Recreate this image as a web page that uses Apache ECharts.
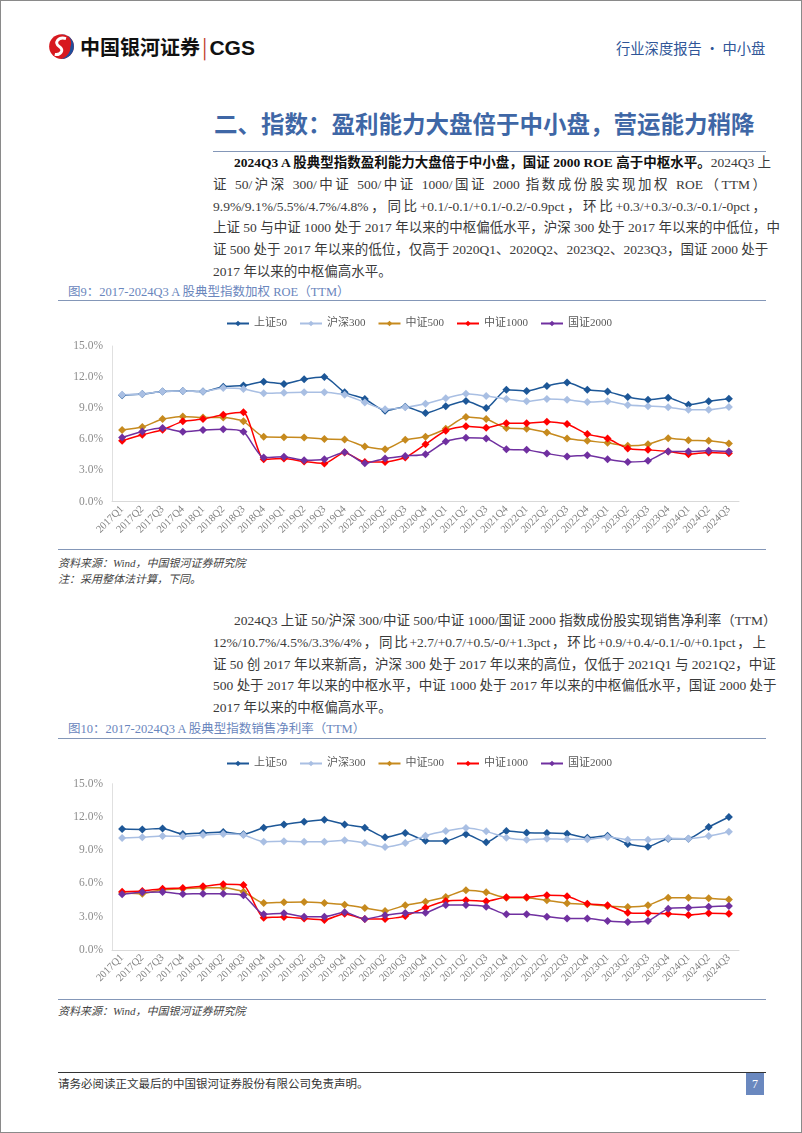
<!DOCTYPE html>
<html><head><meta charset="utf-8">
<script src="https://cdn.jsdelivr.net/npm/echarts@6/dist/echarts.min.js"></script>
<style>
html,body{margin:0;padding:0;background:#fff;}
#page{position:relative;width:800px;height:1131px;border:1px solid #8a8a8a;overflow:hidden;font-family:"Liberation Serif","Noto Sans CJK SC",serif;color:#333;}
.abs{position:absolute;white-space:nowrap;}
.hr{position:absolute;height:0;}
.para{position:absolute;left:212px;width:553px;font-size:13.5px;color:#3a3a3a;}
.para div{height:21.8px;line-height:21.8px;white-space:nowrap;text-align:justify;text-align-last:justify;}
.para div.last{text-align-last:left;}
.para b{color:#111;font-weight:bold;}
.cap{font-size:12.5px;color:#6a86bd;left:67px;}
.src{font-size:11px;font-style:italic;color:#444;left:57px;}
</style></head>
<body><div id="page">
<svg class="abs" style="left:47px;top:32px" width="27" height="27" viewBox="0 0 24 24">
<circle cx="12" cy="12" r="11" fill="#d7191f"/>
<path d="M12 1 A11 11 0 0 1 12 23 A11 11 0 0 0 20 12 A8 8 0 0 0 12 1Z" fill="#1e4f9c"/>
<path d="M16 5 C9 3 5 9 10 12 C15 15 11 20 6 19" stroke="#fff" stroke-width="2.6" fill="none"/>
</svg>
<div class="abs" style="left:79px;top:33px;font-size:20px;font-weight:bold;color:#111;font-family:'Noto Sans CJK SC';line-height:26px;">中国银河证券<span style="color:#c0392b;font-weight:normal;margin:0 2px">|</span><span style="font-family:'Liberation Sans';font-size:21px">CGS</span></div>
<div class="abs" style="left:615px;top:36px;font-size:14.3px;color:#2f5597;font-family:'Noto Sans CJK SC';line-height:22px;">行业深度报告 · 中小盘</div>
<div class="abs" style="left:213px;top:106px;font-size:23.5px;font-weight:bold;color:#3f67a6;font-family:'Noto Sans CJK SC';line-height:32px;">二、指数：盈利能力大盘倍于中小盘，营运能力稍降</div>
<div class="hr" style="left:212px;width:553px;top:150px;border-top:1.5px solid #8497b8;"></div>

<div class="para" style="top:151px">
<div><span style="padding-left:21px"></span><b>2024Q3 A 股典型指数盈利能力大盘倍于中小盘，国证 2000 ROE 高于中枢水平。</b>2024Q3 上</div>
<div>证 50/沪深 300/中证 500/中证 1000/国证 2000 指数成份股实现加权 ROE（TTM）</div>
<div>9.9%/9.1%/5.5%/4.7%/4.8%，同比+0.1/-0.1/+0.1/-0.2/-0.9pct，环比+0.3/+0.3/-0.3/-0.1/-0pct，</div>
<div>上证 50 与中证 1000 处于 2017 年以来的中枢偏低水平，沪深 300 处于 2017 年以来的中低位，中</div>
<div>证 500 处于 2017 年以来的低位，仅高于 2020Q1、2020Q2、2023Q2、2023Q3，国证 2000 处于</div>
<div class="last">2017 年以来的中枢偏高水平。</div>
</div>

<div class="abs cap" style="top:283px;line-height:16px">图9：2017-2024Q3 A 股典型指数加权 ROE（TTM）</div>
<div class="hr" style="left:57px;width:708px;top:299px;border-top:1.5px solid #8497b8;"></div>
<div id="c1" style="position:absolute;left:0;top:300px;width:802px;height:246px"></div>
<div class="hr" style="left:57px;width:708px;top:548px;border-top:1px solid #8497b8;"></div>
<div class="abs src" style="top:554px;line-height:16px">资料来源：Wind，中国银河证券研究院</div>
<div class="abs src" style="top:570px;line-height:16px">注：采用整体法计算，下同。</div>

<div class="para" style="top:609px">
<div><span style="padding-left:21px"></span>2024Q3 上证 50/沪深 300/中证 500/中证 1000/国证 2000 指数成份股实现销售净利率（TTM）</div>
<div>12%/10.7%/4.5%/3.3%/4%，同比+2.7/+0.7/+0.5/-0/+1.3pct，环比+0.9/+0.4/-0.1/-0/+0.1pct，上</div>
<div>证 50 创 2017 年以来新高，沪深 300 处于 2017 年以来的高位，仅低于 2021Q1 与 2021Q2，中证</div>
<div>500 处于 2017 年以来的中枢水平，中证 1000 处于 2017 年以来的中枢偏低水平，国证 2000 处于</div>
<div class="last">2017 年以来的中枢偏高水平。</div>
</div>

<div class="abs cap" style="top:720px;line-height:16px">图10：2017-2024Q3 A 股典型指数销售净利率（TTM）</div>
<div class="hr" style="left:57px;width:708px;top:737px;border-top:1.5px solid #8497b8;"></div>
<div id="c2" style="position:absolute;left:0;top:740px;width:802px;height:256px"></div>
<div class="hr" style="left:57px;width:708px;top:998px;border-top:1px solid #8497b8;"></div>
<div class="abs src" style="top:1002px;line-height:16px">资料来源：Wind，中国银河证券研究院</div>

<div class="hr" style="left:57px;width:708px;top:1071px;border-top:1.5px solid #333;"></div>
<div class="abs" style="left:57px;top:1075px;font-size:11.5px;color:#333;line-height:16px">请务必阅读正文最后的中国银河证券股份有限公司免责声明。</div>
<div class="abs" style="left:745px;top:1072px;width:18px;height:22px;background:#6a88bf;color:#fff;font-size:12px;line-height:22px;text-align:center">7</div>
</div>
<script>
var categories = ['2017Q1','2017Q2','2017Q3','2017Q4','2018Q1','2018Q2','2018Q3','2018Q4','2019Q1','2019Q2','2019Q3','2019Q4','2020Q1','2020Q2','2020Q3','2020Q4','2021Q1','2021Q2','2021Q3','2021Q4','2022Q1','2022Q2','2022Q3','2022Q4','2023Q1','2023Q2','2023Q3','2023Q4','2024Q1','2024Q2','2024Q3'];
var seriesNames = ['上证50','沪深300','中证500','中证1000','国证2000'];
var yTicks = [0, 3, 6, 9, 12, 15];

// Figure 9: weighted ROE (TTM), %
var roe_sz50   = [10.25,10.37,10.6,10.66, 10.6,11.08,11.18,11.56, 11.34,11.79,12.0,10.53, 9.89,8.76,9.15,8.53, 9.18,9.69,9.02,10.79, 10.66,11.15,11.47,10.79, 10.6,10.08,9.82,10.02, 9.34,9.66,9.92];
var roe_hs300  = [10.3,10.37,10.6,10.66, 10.6,10.95,10.85,10.44, 10.5,10.53,10.53,10.3, 9.56,8.89,9.08,9.42, 9.95,10.4,10.18,9.89, 9.66,9.89,9.82,9.6, 9.66,9.3,9.2,9.1, 8.85,8.85,9.12];
var roe_zz500  = [6.89,7.18,7.95,8.2, 8.1,8.1,7.73,6.24, 6.2,6.18,6.02,5.98, 5.3,5.05,5.95,6.24, 7.02,8.15,7.95,7.08, 7.02,6.66,6.08,5.85, 5.66,5.37,5.53,6.11, 5.92,5.85,5.6];
var roe_zz1000 = [5.85,6.44,6.92,7.73, 7.95,8.37,8.6,4.08, 4.15,3.85,3.66,4.73, 3.82,3.82,4.24,5.53, 6.82,7.27,7.11,7.56, 7.56,7.69,7.47,6.5, 6.08,5.11,4.98,4.82, 4.56,4.73,4.66];
var roe_gz2000 = [6.18,6.76,7.08,6.73, 6.89,6.98,6.73,4.24, 4.31,3.98,4.08,4.76, 3.69,4.15,4.4,4.56, 5.79,6.15,6.08,5.05, 4.98,4.63,4.34,4.47, 4.08,3.82,3.92,4.82, 4.82,4.89,4.82];

// Figure 10: net profit margin (TTM), %
var npm_sz50   = [10.91,10.88,10.97,10.46, 10.55,10.64,10.43,11.03, 11.33,11.57,11.75,11.33, 11.03,10.16,10.55,9.86, 9.83,10.43,9.71,10.73, 10.58,10.55,10.49,10.13, 10.31,9.56,9.32,10.04, 10.04,11.09,12.0];
var npm_hs300  = [10.1,10.16,10.28,10.25, 10.37,10.46,10.37,9.77, 9.8,9.77,9.77,9.89, 9.65,9.29,9.65,10.31, 10.73,11.0,10.7,10.13, 9.95,10.04,9.98,9.98, 10.19,9.95,9.95,10.07, 10.04,10.28,10.67];
var npm_zz500  = [5.14,5.08,5.44,5.53, 5.62,5.62,5.26,4.24, 4.3,4.33,4.24,4.09, 3.79,3.52,4.03,4.36, 4.78,5.38,5.2,4.72, 4.72,4.48,4.21,4.12, 3.97,3.88,4.03,4.72, 4.72,4.66,4.55];
var npm_zz1000 = [5.26,5.32,5.53,5.59, 5.74,5.92,5.86,2.92, 2.98,2.83,2.71,3.28, 2.8,2.8,3.07,3.82, 4.42,4.48,4.39,4.75, 4.75,4.93,4.84,4.18, 4.03,3.37,3.31,3.28, 3.16,3.31,3.28];
var npm_gz2000 = [5.02,5.2,5.23,5.05, 5.08,5.08,4.93,3.22, 3.31,3.01,3.01,3.4, 2.8,3.13,3.34,3.37, 4.06,4.06,3.91,3.22, 3.22,3.01,2.83,2.83, 2.62,2.52,2.62,3.73, 3.82,3.91,3.97];

var colors = ['#1d5797','#a9bfe3','#c68a1e','#ff0000','#7030a0'];
var FONT = 'Liberation Serif';

function makeOption(dataSets, gridTop, gridBottom){
  return {
    animation:false,
    color:colors,
    legend:{top:12,left:220,itemWidth:22,itemHeight:7,itemGap:12,
      data:seriesNames,
      textStyle:{color:'#595959',fontSize:11,fontFamily:'Liberation Serif, Noto Sans CJK SC'}},
    grid:{left:111,right:64,top:gridTop,bottom:gridBottom},
    xAxis:{type:'category',data:categories,boundaryGap:true,
      axisLine:{lineStyle:{color:'#d9d9d9',width:1}},
      axisTick:{show:false},
      axisLabel:{rotate:45,fontSize:10.5,color:'#7f7f7f',fontFamily:FONT,margin:6,interval:0}},
    yAxis:{type:'value',min:yTicks[0],max:yTicks[yTicks.length-1],interval:3,
      axisLine:{show:true,lineStyle:{color:'#e0e0e0'}},
      axisTick:{show:false},splitLine:{show:false},
      axisLabel:{formatter:function(v){return v.toFixed(1)+'%';},fontSize:11.5,color:'#8c8c8c',fontFamily:FONT,margin:9}},
    series:dataSets.map(function(d,i){
      return {name:seriesNames[i],type:'line',data:d,symbol:'diamond',symbolSize:8,smooth:0.2,
        lineStyle:{width:1.5,color:colors[i]},itemStyle:{color:colors[i]}};
    })
  };
}
var c1 = echarts.init(document.getElementById('c1'));
c1.setOption(makeOption([roe_sz50,roe_hs300,roe_zz500,roe_zz1000,roe_gz2000],45,45.5));
var c2 = echarts.init(document.getElementById('c2'));
c2.setOption(makeOption([npm_sz50,npm_hs300,npm_zz500,npm_zz1000,npm_gz2000],42.7,47));
</script>
</body></html>
